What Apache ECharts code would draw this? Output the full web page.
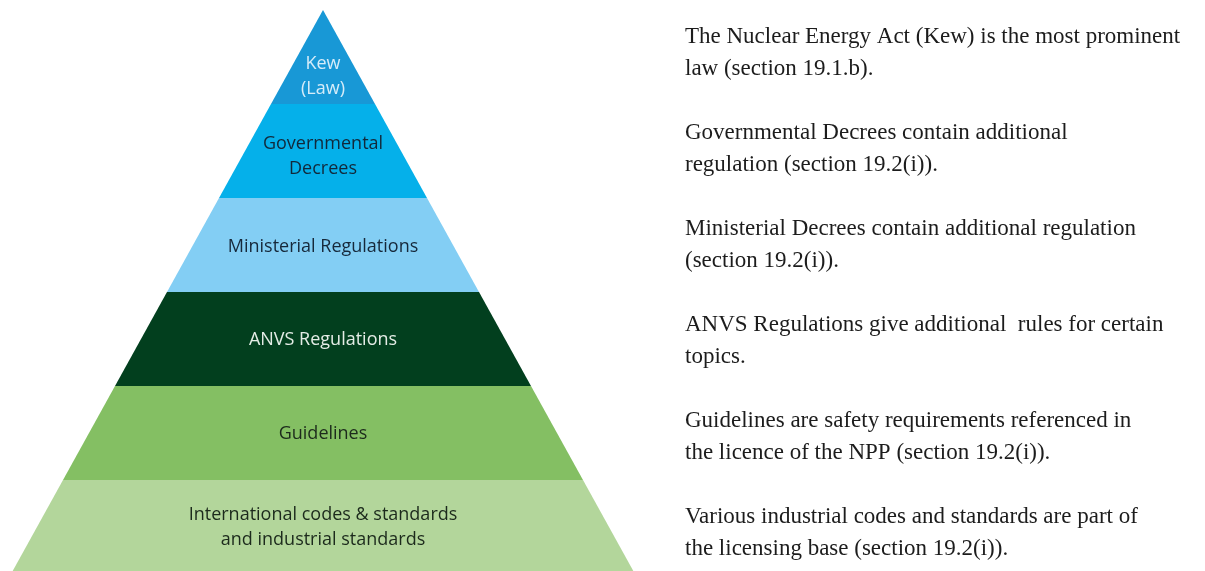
<!DOCTYPE html>
<html>
<head>
<meta charset="utf-8">
<script src="https://cdn.jsdelivr.net/npm/echarts@6/dist/echarts.min.js"></script>
<style>
  html, body { margin: 0; padding: 0; background: #fff; }
  #chart { width: 1205px; height: 571px; }
</style>
</head>
<body>
<div id="chart"></div>
<script>
// pyramid layers, top to bottom
const levels = [
  'Kew\n(Law)',
  'Governmental\nDecrees',
  'Ministerial Regulations',
  'ANVS Regulations',
  'Guidelines',
  'International codes & standards\nand industrial standards',
]
// relative width of each layer's bottom edge
const widths = [1, 2, 3, 4, 5, 6]
const descriptions = [
  'The Nuclear Energy Act (Kew) is the most prominent\nlaw (section 19.1.b).',
  'Governmental Decrees contain additional\nregulation (section 19.2(i)).',
  'Ministerial Decrees contain additional regulation\n(section 19.2(i)).',
  'ANVS Regulations give additional  rules for certain\ntopics.',
  'Guidelines are safety requirements referenced in\nthe licence of the NPP (section 19.2(i)).',
  'Various industrial codes and standards are part of\nthe licensing base (section 19.2(i)).',
]

const fills = ['#1898d6', '#05b0ea', '#83cef4', '#023f1e', '#84bf63', '#b3d69b']
const textColors = ['#d6ecf9', '#12283a', '#16283a', '#e4ece6', '#1c2a1c', '#1c2a1c']
// small vertical nudges so labels sit where the original puts them
const labelShift = [19, 5, 2, 1, 1, 0]

const chart = echarts.init(document.getElementById('chart'))

chart.setOption({
  animation: false,
  series: [
    {
      type: 'funnel',
      sort: 'ascending',
      min: 0,
      max: 6,
      minSize: '0%',
      maxSize: '100%',
      left: 11,
      top: 10,
      width: 624,
      height: 564,
      gap: 0,
      label: {
        show: true,
        position: 'inside',
        fontFamily: 'Open Sans',
        fontSize: 18,
        lineHeight: 25,
      },
      labelLine: { show: false },
      labelLayout: (params) => ({ dy: labelShift[params.dataIndex] }),
      itemStyle: { borderWidth: 0 },
      emphasis: { disabled: true },
      data: levels.map((name, i) => ({
        name,
        value: widths[i],
        itemStyle: { color: fills[i] },
        label: { color: textColors[i] },
      })),
    },
  ],
  graphic: descriptions.map((text, i) => ({
    type: 'text',
    left: 685,
    top: 21 + 96 * i,
    silent: true,
    style: {
      text,
      font: '23px "Liberation Serif"',
      fill: '#1c1c1c',
      lineHeight: 32,
    },
  })),
})
</script>
</body>
</html>
